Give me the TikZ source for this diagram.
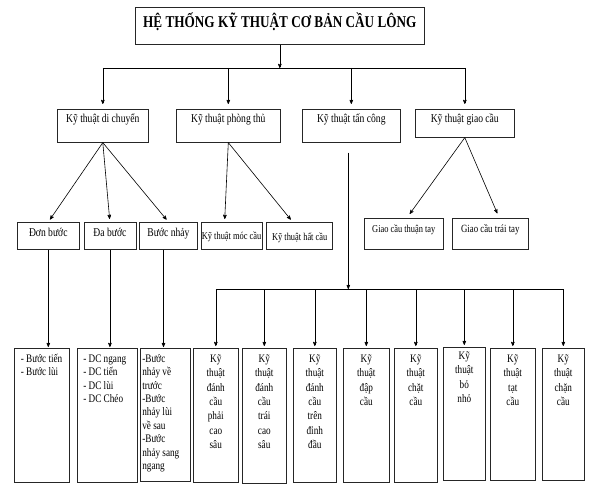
\documentclass[tikz,border=0pt]{standalone}
\usepackage{fontspec}
\setmainfont{Liberation Serif}[FakeStretch=0.8]
\usetikzlibrary{arrows,positioning}
\tikzset{
    %Dinh nghia dau mui ten
    >=stealth',
    %Khung chung
    khung/.style={
           rectangle,
           draw=black!85,
           line width=0.6pt,
           inner sep=0pt},
    %Khung cap 1
    cap1/.style={
           khung,
           font=\fontsize{12}{14}\selectfont,
           text height=13.7pt,
           text depth=19.3pt},
    %Khung cap 2
    cap2/.style={
           khung,
           font=\fontsize{12}{14}\selectfont,
           minimum height=27pt,
           text height=14pt,
           text depth=13pt},
    %Khung cuoi
    hop/.style={
           khung,
           font=\fontsize{11.5}{14.4}\selectfont,
           align=center,
           text height=14pt,
           text depth=120pt},
    %Khung cuoi, chu can trai
    hoptrai/.style={
           hop,
           align=flush left,
           font=\fontsize{11.5}{13.4}\selectfont},
    % Mui ten
    pil/.style={
           ->,
           line width=0.6pt,
           shorten >=3pt}
}
\begin{document}
\begin{tikzpicture}[x=1pt, y=-1pt, node distance=4pt]
 \useasboundingbox (0,0) rectangle (592,492);

 % tieu de
 \node[khung, font=\bfseries\fontsize{16.5}{18}\selectfont, minimum width=289pt,
   text height=20pt, text depth=17pt, anchor=north west] (tieude) at (135,7)
   {HỆ THỐNG KỸ THUẬT CƠ BẢN CẦU LÔNG};

 % cap 1
 \node[cap1, minimum width=91pt, anchor=north west] (dichuyen) at (57,109) {Kỹ thuật di chuyển};
 \node[cap1, minimum width=104pt, anchor=north west] (phongthu) at (176,109) {Kỹ thuật phòng thủ};
 \node[cap1, minimum width=98pt, anchor=north west] (tancong) at (302,109) {Kỹ thuật tấn công};
 \node[cap1, minimum width=99pt, text depth=14.3pt, anchor=north west] (giaocau) at (415,109) {Kỹ thuật giao cầu};

 % cap 2
 \node[cap2, minimum width=62pt, anchor=north west] (donbuoc) at (17,222) {Đơn bước};
 \node[cap2, minimum width=52pt, right=of donbuoc] (dabuoc) {Đa bước};
 \node[cap2, minimum width=58pt, right=3pt of dabuoc] (buocnhay) {Bước nhảy};
 \node[cap2, minimum width=61pt, right=3pt of buocnhay, font=\fontsize{10.5}{12}\selectfont,
   text height=17.3pt, text depth=9.7pt] (moccau) {Kỹ thuật móc cầu};
 \node[cap2, minimum width=66pt, right=of moccau, font=\fontsize{10.5}{12}\selectfont,
   text height=18pt, text depth=9pt] (hatcau) {Kỹ thuật hất cầu};
 \node[cap2, minimum width=79pt, anchor=north west, font=\fontsize{10.5}{12}\selectfont,
   text height=13.7pt, text depth=17.3pt] (thuantay) at (364,218) {Giao cầu thuận tay};
 \node[cap2, minimum width=76pt, anchor=north west, font=\fontsize{11}{12}\selectfont,
   text height=14pt, text depth=17pt] (traitay) at (452,218) {Giao cầu trái tay};

 % cap cuoi
 \node[hoptrai, text width=42pt, inner xsep=6.5pt, anchor=north west] (b1) at (14,348)
   {\mbox{- Bước tiến}\\\mbox{- Bước lùi}};
 \node[hoptrai, text width=48pt, inner xsep=6pt, anchor=north west] (b2) at (77,348)
   {\mbox{- DC ngang}\\\mbox{- DC tiến}\\\mbox{- DC lùi}\\\mbox{- DC Chéo}};
 \node[hoptrai, text width=46pt, inner xsep=2pt, text depth=119pt, anchor=north west] (b3) at (140,348)
   {\mbox{-Bước}\\\mbox{nhảy về}\\\mbox{trước}\\\mbox{-Bước}\\\mbox{nhảy lùi}\\\mbox{về sau}\\\mbox{-Bước}\\\mbox{nhảy sang}\\\mbox{ngang}};
 \node[hop, text width=45pt, anchor=north west] (b4) at (193,348) {Kỹ\\thuật\\đánh\\cầu\\phải\\cao\\sâu};
 \node[hop, text width=44pt, text depth=121pt, anchor=north west] (b5) at (242,348) {Kỹ\\thuật\\đánh\\cầu\\trái\\cao\\sâu};
 \node[hop, text width=43pt, anchor=north west] (b6) at (293,348) {Kỹ\\thuật\\đánh\\cầu\\trên\\đỉnh\\đầu};
 \node[hop, text width=46pt, anchor=north west] (b7) at (343,348) {Kỹ\\thuật\\đập\\cầu};
 \node[hop, text width=43pt, anchor=north west] (b8) at (394,348) {Kỹ\\thuật\\chặt\\cầu};
 \node[hop, text width=42pt, text height=12pt, text depth=121pt, anchor=north west] (b9) at (443,347) {Kỹ\\thuật\\bỏ\\nhỏ};
 \node[hop, text width=45pt, text depth=118pt, anchor=north west] (b10) at (490,348) {Kỹ\\thuật\\tạt\\cầu};
 \node[hop, text width=42pt, text depth=118pt, anchor=north west] (b11) at (542,348) {Kỹ\\thuật\\chặn\\cầu};

 % duong noi
 \coordinate (re1) at (0,68);
 \coordinate (re2) at (0,289);
 \draw[line width=0.6pt] (dichuyen.north |- re1) -- (giaocau.north |- re1);
 \draw[pil, shorten >=0pt] (tieude) -- (tieude |- re1);
 \foreach \n in {dichuyen,phongthu,tancong,giaocau}
   \draw[pil, shorten >=5pt] (\n.north |- re1) -- (\n.north);

 \draw[pil] (dichuyen.south) -- (donbuoc.north);
 \draw[pil] (dichuyen.south) -- (dabuoc.north);
 \draw[pil] (dichuyen.south) -- (buocnhay.north);
 \draw[pil] (phongthu.south) -- ([xshift=-7pt]moccau.north);
 \draw[pil] (phongthu.south) -- ([xshift=-7pt]hatcau.north);
 \draw[pil, shorten >=5pt] (giaocau.south) -- ([xshift=3pt]thuantay.north);
 \draw[pil, shorten >=5pt] (giaocau.south) -- ([xshift=9pt]traitay.north);

 \draw[pil, shorten >=0pt, shorten <=10pt] ([xshift=-3pt]tancong.south) -- ([xshift=-3pt]tancong.south |- re2);
 \draw[line width=0.6pt] (b4.north |- re2) -- (b11.north |- re2);
 \foreach \i in {4,...,11}
   \draw[pil, shorten >=2pt] (b\i.north |- re2) -- (b\i.north);

 \draw[pil, shorten >=1pt] (donbuoc.south) -- (donbuoc.south |- b1.north);
 \draw[pil, shorten >=1pt] (dabuoc.south) -- (dabuoc.south |- b2.north);
 \draw[pil, shorten >=1pt] ([xshift=-5pt]buocnhay.south) -- ([xshift=-5pt]buocnhay.south |- b3.north);
\end{tikzpicture}
\end{document}
